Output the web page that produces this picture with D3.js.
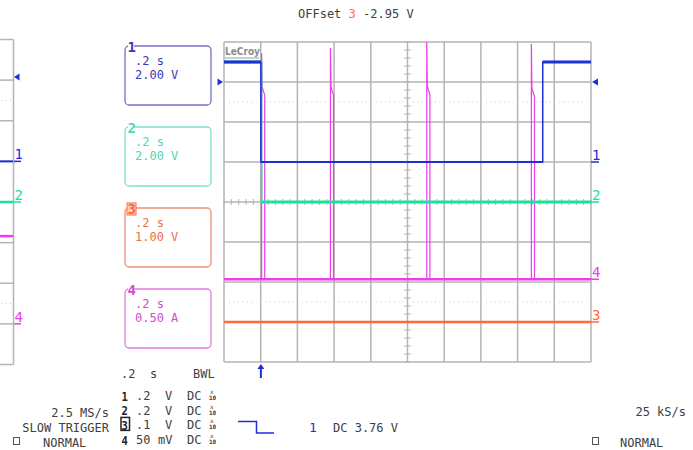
<!DOCTYPE html>
<html lang="en">
<head>
<meta charset="utf-8">
<script src="https://d3js.org/d3.v7.min.js"></script>
<style>
  body { margin: 0; background: #fff; }
  text { font-family: "DejaVu Sans Mono", monospace; font-size: 12px; fill: #404040; }
</style>
</head>
<body>
<script>
// horizontal: 10 divisions of .2 s, vertical: 8 divisions
var timeDivs = d3.range(0, 2.0001, 0.2);
var levelDivs = d3.range(-4, 4.0001, 1);

// trace data, levels in divisions from screen centre
var ch1Time = [0, 0.201, 0.201, 1.737, 1.737, 2];
var ch1Level = [3.5, 3.5, 1.0, 1.0, 3.5, 3.5];
var ch2Time = [0, 0.205, 0.205, 2];
var ch2Level = [3.5, 3.5, 0, 0];
var ch3Time = [0, 2];
var ch3Level = [-3.0, -3.0];
var ch4Base = -1.93;
var ch4SpikeTime = [0.205, 0.580, 1.105, 1.675];
var ch4SpikePeak = [3.72, 3.85, 4.0, 3.95];
var ch4Shoulder = [2.88, 2.88, 2.9, 2.85];
// spike shape: time offsets and drop below shoulder
var spikeDt = [0.003, 0.010, 0.017];
var spikeDrop = [0, 0.12, 0.2];

// channel marker levels on the right edge
var markerCh = ["1", "2", "4", "3"];
var markerLevel = [1.0, 0, -1.93, -3.0];

// left (zoomed) panel
var leftLevel = { ch1: 1.0, ch2: 0, ch4: -0.84 };
var leftMarkerCh = ["1", "2", "4"];
var leftMarkerLevel = [1.0, 0, -3.0];

// channel info boxes
var boxCh = ["1", "2", "3", "4"];
var boxTimebase = [".2 s", ".2 s", ".2 s", ".2 s"];
var boxScale = ["2.00 V", "2.00 V", "1.00 V", "0.50 A"];

// bottom table
var tableCh = ["1", "2", "3", "4"];
var tableVal = [".2", ".2", ".1", "50"];
var tableUnit = ["V", "V", "V", "mV"];

var col = {
  "1": { trace: "#1f2fd6", text: "#3a3ab8", box: "#7474c8" },
  "2": { trace: "#18e39a", text: "#4fd6bc", box: "#78e2d2" },
  "3": { trace: "#ff6a3d", text: "#f0704e", box: "#f09078" },
  "4": { trace: "#ec3cec", text: "#d04cd0", box: "#e47ae4" }
};

var W = 693, H = 450;
var svg = d3.select("body").append("svg")
  .attr("width", W).attr("height", H);
svg.append("rect").attr("width", W).attr("height", H).attr("fill", "#fff");

var x = d3.scaleLinear().domain([0, 2]).range([224, 591]);
var y = d3.scaleLinear().domain([-4, 4]).range([362, 42]);
var yl = d3.scaleLinear().domain([-4, 4]).range([364.5, 39.5]);

var gridCol = "#b4b4b4";

// ---- left partial panel ----
var left = svg.append("g");
left.selectAll("line.h").data(levelDivs).enter().append("line")
  .attr("x1", 0).attr("x2", 13.5)
  .attr("y1", function(d) { return yl(d); }).attr("y2", function(d) { return yl(d); })
  .attr("stroke", gridCol).attr("stroke-width", 1.5);
left.append("line").attr("x1", 13.5).attr("x2", 13.5)
  .attr("y1", yl(4)).attr("y2", yl(-4))
  .attr("stroke", gridCol).attr("stroke-width", 1.5);
[2.5, -2.5].forEach(function(v) {
  left.append("line").attr("x1", 1).attr("x2", 12)
    .attr("y1", yl(v)).attr("y2", yl(v))
    .attr("stroke", "#c8c8c8").attr("stroke-dasharray", "1,3.5");
});
left.append("line").attr("x1", 0).attr("x2", 13).attr("y1", yl(leftLevel.ch1)).attr("y2", yl(leftLevel.ch1))
  .attr("stroke", col["1"].trace).attr("stroke-width", 2);
left.append("line").attr("x1", 0).attr("x2", 13).attr("y1", yl(leftLevel.ch2)).attr("y2", yl(leftLevel.ch2))
  .attr("stroke", col["2"].trace).attr("stroke-width", 2.5);
left.append("line").attr("x1", 0).attr("x2", 13).attr("y1", yl(leftLevel.ch4)).attr("y2", yl(leftLevel.ch4))
  .attr("stroke", col["4"].trace).attr("stroke-width", 2.5);
leftMarkerCh.forEach(function(c, i) {
  var yy = yl(leftMarkerLevel[i]);
  left.append("line").attr("x1", 14).attr("x2", 21).attr("y1", yy).attr("y2", yy)
    .attr("stroke", col[c].trace).attr("stroke-width", 1.5);
  left.append("text").attr("x", 14.5).attr("y", yy - 2).text(c)
    .style("fill", col[c].trace).style("font-size", "14px");
});
left.append("path").attr("d", "M14,77 L19.5,73.5 L19.5,80.5 Z").attr("fill", col["1"].trace);

// ---- main grid ----
var grid = svg.append("g");
grid.selectAll("line.v").data(timeDivs).enter().append("line")
  .attr("x1", function(d) { return x(d); }).attr("x2", function(d) { return x(d); })
  .attr("y1", y(4)).attr("y2", y(-4))
  .attr("stroke", gridCol).attr("stroke-width", 1.5);
grid.selectAll("line.h").data(levelDivs).enter().append("line")
  .attr("x1", x(0)).attr("x2", x(2))
  .attr("y1", function(d) { return y(d); }).attr("y2", function(d) { return y(d); })
  .attr("stroke", gridCol).attr("stroke-width", 1.5);
// centre line minor ticks
grid.selectAll("line.tv").data(d3.range(-4, 4.0001, 0.2)).enter().append("line")
  .attr("x1", x(1) - 3.5).attr("x2", x(1) + 3.5)
  .attr("y1", function(d) { return y(d); }).attr("y2", function(d) { return y(d); })
  .attr("stroke", gridCol).attr("stroke-width", 1);
grid.selectAll("line.th").data(d3.range(0, 2.0001, 0.04)).enter().append("line")
  .attr("x1", function(d) { return x(d); }).attr("x2", function(d) { return x(d); })
  .attr("y1", y(0) - 3).attr("y2", y(0) + 3)
  .attr("stroke", gridCol).attr("stroke-width", 1);
// dotted reference lines
timeDivs.slice(0, -1).forEach(function(t) {
  [2.5, -2.5].forEach(function(v) {
    grid.append("line").attr("x1", x(t) + 5).attr("x2", x(t + 0.2) - 4)
      .attr("y1", y(v)).attr("y2", y(v))
      .attr("stroke", "#c4c4c4").attr("stroke-dasharray", "1,3.5");
  });
});

// logo
svg.append("text").attr("x", 225).attr("y", 55).text("LeCroy")
  .style("font-family", "DejaVu Sans Condensed, sans-serif").style("font-weight", "bold")
  .style("font-size", "10px").style("fill", "#8c8c8c");
svg.append("line").attr("x1", 225).attr("x2", 259).attr("y1", 58).attr("y2", 58)
  .attr("stroke", "#9a9a9a").attr("stroke-width", 1);

// ---- traces ----
var line = d3.line().x(function(d) { return x(d[0]); }).y(function(d) { return y(d[1]); });
function pts(t, v) { return t.map(function(d, i) { return [d, v[i]]; }); }

// thin path for the edges, thicker overlay on the flat parts
function trace(p, c, edgeW, flatW) {
  svg.append("path").attr("d", line(p))
    .attr("fill", "none").attr("stroke", c).attr("stroke-width", edgeW);
  for (var i = 1; i < p.length; i++) {
    if (p[i][1] === p[i - 1][1] && p[i][0] !== p[i - 1][0]) {
      var w = typeof flatW === "function" ? flatW(p[i][1]) : flatW;
      svg.append("line")
        .attr("x1", x(p[i - 1][0])).attr("x2", x(p[i][0]))
        .attr("y1", y(p[i][1])).attr("y2", y(p[i][1]))
        .attr("stroke", c).attr("stroke-width", w);
    }
  }
}

var ch4 = [[0, ch4Base]];
ch4SpikeTime.forEach(function(t, i) {
  ch4.push([t, ch4Base], [t, ch4SpikePeak[i]]);
  spikeDt.forEach(function(dt, j) { ch4.push([t + dt, ch4Shoulder[i] - spikeDrop[j]]); });
  ch4.push([t + spikeDt[2], ch4Base]);
});
ch4.push([2, ch4Base]);

svg.append("path").attr("d", line(pts(ch3Time, ch3Level)))
  .attr("fill", "none").attr("stroke", col["3"].trace).attr("stroke-width", 2.5);
svg.append("path").attr("d", line(ch4))
  .attr("fill", "none").attr("stroke", col["4"].trace).attr("stroke-width", 1.2);
svg.append("line").attr("x1", x(0)).attr("x2", x(2)).attr("y1", y(ch4Base)).attr("y2", y(ch4Base))
  .attr("stroke", col["4"].trace).attr("stroke-width", 2.6);
trace(pts(ch2Time, ch2Level), col["2"].trace, 1.5, 2.8);
trace(pts(ch1Time, ch1Level), col["1"].trace, 1.5, function(v) { return v > 2 ? 3 : 2; });

// right edge channel markers
markerCh.forEach(function(c, i) {
  var yy = y(markerLevel[i]);
  svg.append("line").attr("x1", 591).attr("x2", 599).attr("y1", yy).attr("y2", yy)
    .attr("stroke", col[c].trace).attr("stroke-width", 1.5);
  svg.append("text").attr("x", 592).attr("y", yy - 2).text(c)
    .style("fill", col[c].trace).style("font-size", "14px");
});

// offset arrows and trigger arrow
svg.append("path").attr("d", "M592," + y(3.0) + " L598," + (y(3.0) - 3.5) + " L598," + (y(3.0) + 3.5) + " Z")
  .attr("fill", col["1"].trace);
svg.append("path").attr("d", "M223," + y(3.0) + " L217.5," + (y(3.0) - 3.5) + " L217.5," + (y(3.0) + 3.5) + " Z")
  .attr("fill", col["1"].trace);
svg.append("path").attr("d", "M" + x(ch1Time[1]) + ",364 l-3.5,5 l7,0 Z").attr("fill", col["1"].trace);
svg.append("line").attr("x1", x(ch1Time[1])).attr("x2", x(ch1Time[1])).attr("y1", 366).attr("y2", 378)
  .attr("stroke", col["1"].trace).attr("stroke-width", 2);

// ---- channel boxes ----
boxCh.forEach(function(c, i) {
  var boxTop = 46 + i * 81;
  var g = svg.append("g");
  g.append("rect").attr("x", 125).attr("y", boxTop).attr("width", 86).attr("height", 59)
    .attr("rx", 4).attr("fill", "none").attr("stroke", col[c].box).attr("stroke-width", 1.3);
  if (c === "3") {
    g.append("rect").attr("x", 127).attr("y", boxTop - 5).attr("width", 9).attr("height", 12)
      .attr("fill", "#fbd2c4").attr("stroke", col[c].trace).attr("stroke-width", 1);
  } else {
    g.append("rect").attr("x", 128).attr("y", boxTop - 2).attr("width", 6).attr("height", 4).attr("fill", "#fff");
  }
  g.append("text").attr("x", 127.5).attr("y", boxTop + 6).text(c)
    .style("fill", c === "3" ? col[c].trace : col[c].text).style("font-size", "14px").style("font-weight", "bold");
  g.append("text").attr("x", 135).attr("y", boxTop + 19).text(boxTimebase[i]).style("fill", col[c].text);
  g.append("text").attr("x", 135).attr("y", boxTop + 33).text(boxScale[i]).style("fill", col[c].text);
});

// ---- bottom text ----
svg.append("text").attr("x", 121).attr("y", 378).text(".2");
svg.append("text").attr("x", 150).attr("y", 378).text("s");
svg.append("text").attr("x", 193).attr("y", 378).text("BWL");
tableCh.forEach(function(c, i) {
  var yy = 400 + i * 14.7;
  if (c === "3") {
    svg.append("rect").attr("x", 121).attr("y", yy - 12).attr("width", 8.5).attr("height", 13)
      .attr("fill", "none").attr("stroke", "#222").attr("stroke-width", 1.5);
  }
  svg.append("text").attr("transform", "translate(121.5," + (yy + 0.5) + ") scale(1,1.18)").text(c)
    .style("font-size", "10.5px").style("font-weight", "bold").style("fill", "#222");
  svg.append("text").attr("x", 136).attr("y", yy).text(tableVal[i]);
  svg.append("text").attr("x", tableUnit[i] === "mV" ? 158 : 165).attr("y", yy).text(tableUnit[i]);
  svg.append("text").attr("x", 187).attr("y", yy).text("DC");
  svg.append("text").attr("x", 210).attr("y", yy - 6).text("x").style("font-size", "6px");
  svg.append("text").attr("x", 209).attr("y", yy).text("10").style("font-size", "6px").style("font-weight", "bold");
});

svg.append("text").attr("x", 109).attr("y", 417).attr("text-anchor", "end").text("2.5 MS/s");
svg.append("text").attr("x", 109).attr("y", 432).attr("text-anchor", "end").text("SLOW TRIGGER");
svg.append("rect").attr("x", 13.5).attr("y", 437.5).attr("width", 6).attr("height", 7)
  .attr("fill", "none").attr("stroke", "#555").attr("stroke-width", 1);
svg.append("text").attr("x", 43).attr("y", 447).text("NORMAL");

svg.append("path").attr("d", "M238,421.5 L256.5,421.5 L256.5,433 L274,433")
  .attr("fill", "none").attr("stroke", col["1"].trace).attr("stroke-width", 1.5);
svg.append("text").attr("x", 309).attr("y", 432).text("1").style("fill", col["1"].trace).style("font-size", "13px");
svg.append("text").attr("x", 333).attr("y", 432).text("DC 3.76 V");

svg.append("text").attr("x", 686).attr("y", 416).attr("text-anchor", "end").text("25 kS/s");
svg.append("rect").attr("x", 592.5).attr("y", 437.5).attr("width", 6).attr("height", 7)
  .attr("fill", "none").attr("stroke", "#555").attr("stroke-width", 1);
svg.append("text").attr("x", 620).attr("y", 447).text("NORMAL");

// top offset readout
var offText = svg.append("text").attr("x", 298).attr("y", 18);
offText.append("tspan").text("OFFset ");
offText.append("tspan").text("3").style("fill", col["3"].trace);
offText.append("tspan").text(" -2.95 V");
</script>
</body>
</html>
